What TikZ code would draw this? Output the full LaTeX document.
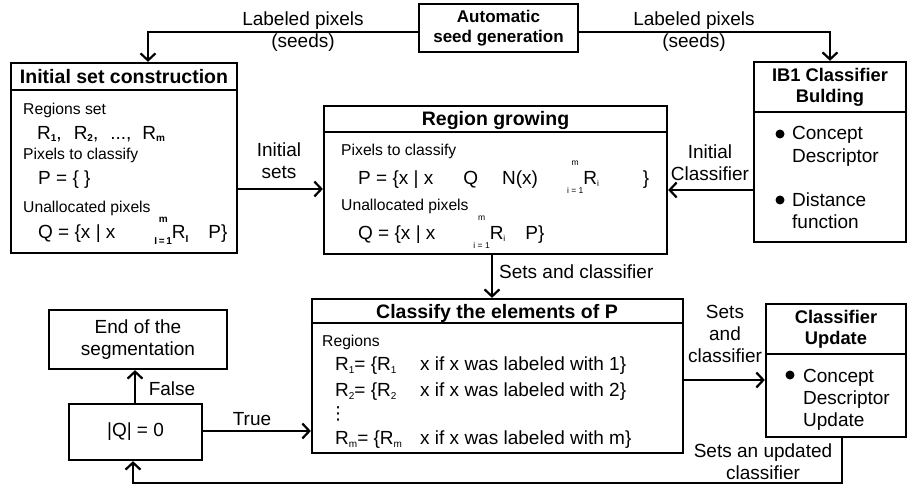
\documentclass[tikz,border=0pt]{standalone}
\usepackage{fontspec}
\setmainfont{Liberation Sans}
\newfontfamily\symfont{DejaVu Sans}
\usetikzlibrary{arrows.meta}
\newcommand\fsz[2]{\fontsize{#1}{#2}\selectfont}
% limits stacked over and under an (absent) big operator
\newcommand\opl[4]{\ooalign{\hfil\raisebox{#1}{#3}\hfil\cr\hfil\raisebox{-#2}{#4}\hfil\cr}}
% lowered subscript
\newcommand\lsub[2]{\raisebox{-#1}{#2}}
\newcommand\bsub{\bfseries\fsz{10}{10}}
\newcommand\tsub{\fsz{8.5}{8.5}}
\newcommand\csub{\fsz{10}{10}}
\begin{document}
\begin{tikzpicture}[x=1pt,y=-1pt,
  box/.style={draw,line width=2.3pt,inner sep=0pt},
  conn/.style={line width=2.2pt,-{Straight Barb[length=7pt,width=15pt]}},
  sep/.style={line width=2.3pt},
  lbl/.style={font=\fsz{19}{22},align=center,inner sep=0pt},
  head/.style={font=\bfseries\fsz{19.5}{22},inner sep=0pt,anchor=base},
  head2/.style={font=\bfseries\fsz{18.3}{21},align=center,inner sep=0pt},
  note/.style={font=\fsz{15.7}{18},anchor=base west,inner sep=0pt},
  body/.style={font=\fsz{19}{22},anchor=base west,inner sep=0pt},
  bullet/.style={fill,circle,inner sep=0pt,minimum size=9pt}]
\path[use as bounding box] (0,0) rectangle (908,489);

% ---- boxes
\node[box,minimum width=159pt,minimum height=48pt,align=center,
      font=\bfseries\fsz{17}{19.5}] (seed) at (498.5,28) {Automatic\\seed generation};
\node[box,minimum width=226pt,minimum height=190pt] (init) at (124,158) {};
\node[box,minimum width=152pt,minimum height=180pt] (ib1) at (830,152) {};
\node[box,minimum width=343pt,minimum height=148pt] (rg) at (495.5,180) {};
\node[box,minimum width=371pt,minimum height=154pt] (cls) at (497.5,376) {};
\node[box,minimum width=140pt,minimum height=133pt] (upd) at (836,370.5) {};
\node[box,minimum width=178pt,minimum height=59pt,align=center,
      font=\fsz{19}{22}] (endseg) at (138,339.5) {End of the\\segmentation};
\node[box,minimum width=133pt,minimum height=56pt,
      font=\fsz{19}{22}] (q0) at (135.5,432) {|Q| = 0};

% ---- header separators
\draw[sep] (init.west |- 0,90) -- (init.east |- 0,90);
\draw[sep] (ib1.west |- 0,112) -- (ib1.east |- 0,112);
\draw[sep] (rg.west |- 0,132) -- (rg.east |- 0,132);
\draw[sep] (cls.west |- 0,323) -- (cls.east |- 0,323);
\draw[sep] (upd.west |- 0,354) -- (upd.east |- 0,354);

% ---- titles
\node[head] (init-t) at (124,84) {Initial set construction};
\node[head2] (ib1-t) at (830,87) {IB1 Classifier\\Bulding};
\node[head] (rg-t) at (495.5,126) {Region growing};
\node[head] (cls-t) at (497,318) {Classify the elements of P};
\node[head2] (upd-t) at (836,329.5) {Classifier\\Update};

% ---- initial set construction
\node[note] (init-a) at (23,115) {Regions set};
\node[body] (init-r) at (37,140) {R\lsub{2pt}{\bsub 1},\hspace{12pt}R\lsub{2pt}{\bsub 2},\hspace{12pt}...,\hspace{11pt}R\lsub{2pt}{\bsub m}};
\node[note] (init-b) at (23,160) {Pixels to classify};
\node[body] (init-p) at (38,185) {P = \{ \}};
\node[note] (init-c) at (23,213) {Unallocated pixels};
\node[body] (init-q) at (38,239) {Q = \{x | x\hspace{39pt}\opl{16.5pt}{6pt}{\bsub m}{\bsub I\,=\,1}R\lsub{4pt}{\bsub I}\hspace{20pt}P\}};

% ---- region growing
\node[note] (rg-a) at (341,156) {Pixels to classify};
\node[body] (rg-p) at (358,185) {P = \{x | x\hspace{30pt}Q\hspace{24pt}N(x)\hspace{29pt}\opl{19pt}{8.5pt}{\tsub m}{\tsub i = 1}R\lsub{2pt}{\tsub i}\hspace{44pt}\}};
\node[note] (rg-b) at (341,211) {Unallocated pixels};
\node[body] (rg-q) at (358,240) {Q = \{x | x\hspace{38pt}\opl{19.5pt}{9pt}{\tsub m}{\tsub i = 1}R\lsub{2pt}{\tsub i}\hspace{20pt}P\}};

% ---- IB1 classifier building
\node[bullet] (ib1-d1) at (780,134) {};
\node[body] (ib1-c) at (792,140) {Concept};
\node[body] (ib1-c2) at (792,163) {Descriptor};
\node[bullet] (ib1-d2) at (780,200) {};
\node[body] (ib1-f) at (792,207) {Distance};
\node[body] (ib1-f2) at (792,229) {function};

% ---- classify the elements of P
\node[note] (cls-a) at (322,346) {Regions};
\node[body] (cls-1) at (335,370) {\makebox[85pt][l]{R\lsub{3.5pt}{\csub 1}= \{R\lsub{3.5pt}{\csub 1}}x if x was labeled with 1\}};
\node[body] (cls-2) at (335,396) {\makebox[85pt][l]{R\lsub{3.5pt}{\csub 2}= \{R\lsub{3.5pt}{\csub 2}}x if x was labeled with 2\}};
\node[inner sep=0pt,anchor=base,font=\symfont\fsz{18}{18}] (cls-dots) at (338,419) {⋮};
\node[body] (cls-m) at (335,444) {\makebox[85pt][l]{R\lsub{3.5pt}{\csub m}= \{R\lsub{3.5pt}{\csub m}}x if x was labeled with m\}};

% ---- classifier update
\node[bullet] (upd-d) at (790,375) {};
\node[body] (upd-c) at (803,382) {Concept};
\node[body] (upd-c2) at (803,404) {Descriptor};
\node[body] (upd-c3) at (803,426) {Update};

% ---- connectors
\draw[conn] ([yshift=-4pt]seed.west) -| ([xshift=24pt]init.north);
\draw[conn] ([yshift=-4pt]seed.east) -| (ib1.north);
\draw[conn] (init.east |- 0,189) -- (rg.west |- 0,189);
\draw[conn] (ib1.west |- 0,190) -- (rg.east |- 0,190);
\draw[conn] (rg.south -| 492,0) -- (cls.north -| 492,0);
\draw[conn] (cls.east |- 0,380) -- (upd.west |- 0,380);
\draw[conn] (upd.south -| 842,0) -- (842,483) -| (q0.south -| 133,0);
\draw[conn] (q0.north -| 135,0) -- (endseg.south -| 135,0);
\draw[conn] (q0.east |- 0,431) -- (cls.west |- 0,431);

% ---- connector labels
\node[lbl] (l-seed1) at (303,32) {Labeled pixels\\(seeds)};
\node[lbl] (l-seed2) at (694,32) {Labeled pixels\\(seeds)};
\node[lbl] (l-init) at (279,161) {Initial\\sets};
\node[lbl] (l-ib1) at (710,163) {Initial\\Classifier};
\node[lbl,anchor=base west] (l-rg) at (499,279) {Sets and classifier};
\node[lbl] (l-cls) at (725,334) {Sets\\and\\classifier};
\node[lbl] (l-upd) at (763,462) {Sets an updated\\classifier};
\node[lbl] (l-false) at (172,389) {False};
\node[lbl] (l-true) at (252,419) {True};
\end{tikzpicture}
\end{document}
